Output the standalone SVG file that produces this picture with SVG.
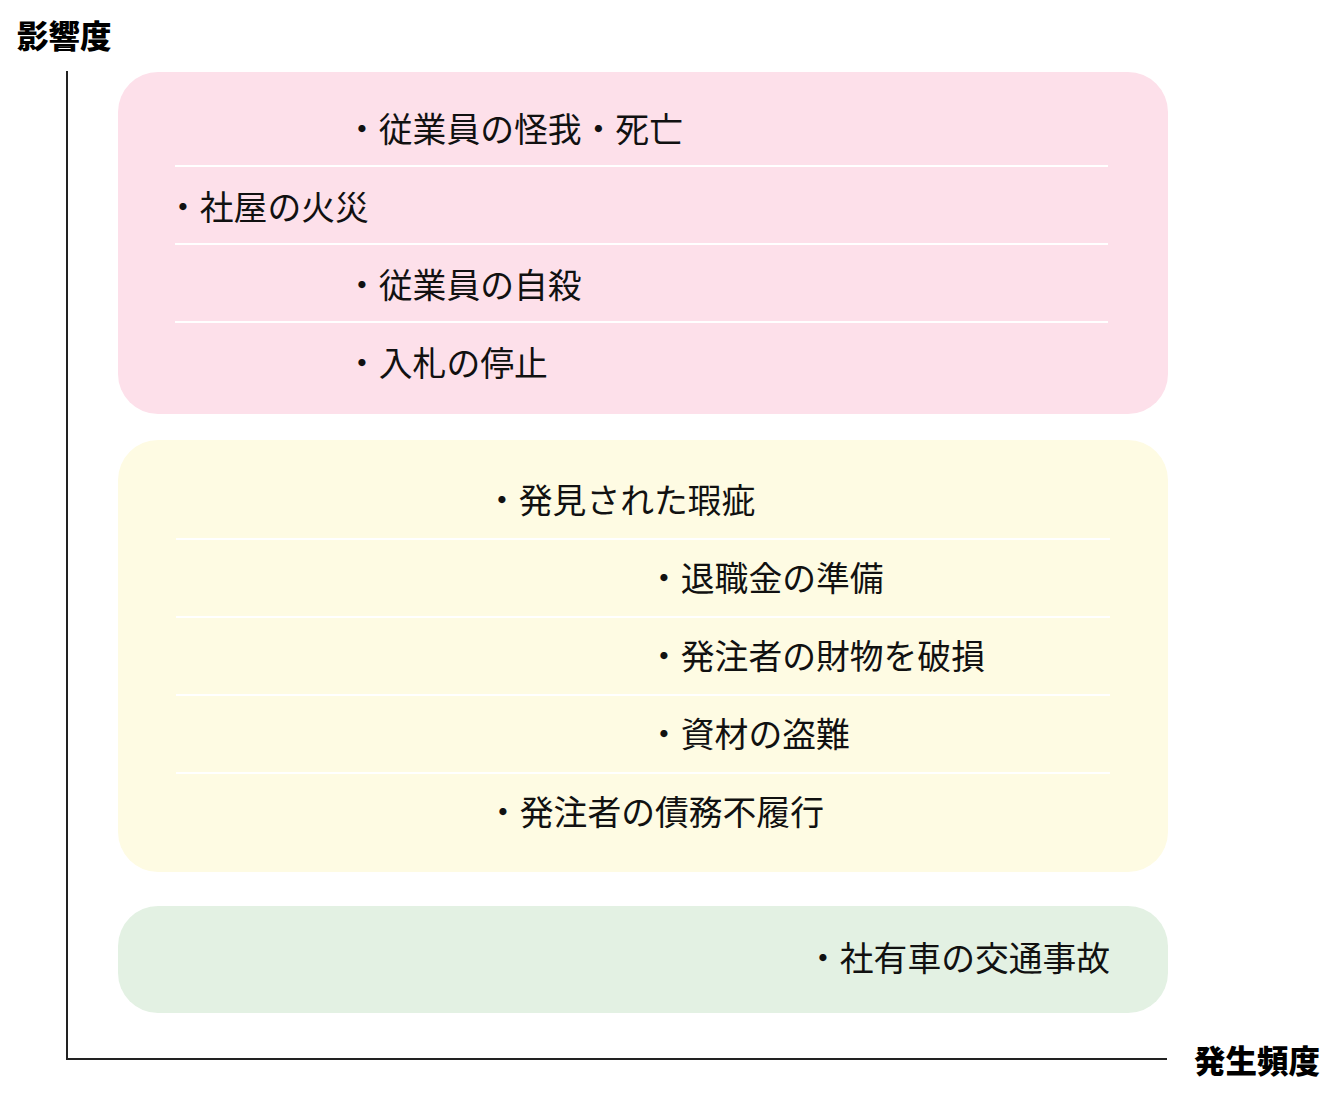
<svg xmlns="http://www.w3.org/2000/svg" width="1336" height="1110" viewBox="0 0 1336 1110">
<style>
.t{font-family:"Noto Sans CJK JP","Noto Sans CJK SC",sans-serif;font-size:33.8px;fill:#111}
.h{font-family:"Noto Sans CJK JP","Noto Sans CJK SC",sans-serif;font-size:31.5px;font-weight:900;fill:#000}
.sep{stroke:#fff;stroke-width:2}
.ax{stroke:#222;stroke-width:2;fill:none}
</style>
<rect width="1336" height="1110" fill="#fff"/>
<g id="axes">
<path class="ax" d="M67 71 V1059 H1167"/>
<text id="y-label" class="h" x="17" y="48">影響度</text>
<text id="x-label" class="h" x="1194" y="1073">発生頻度</text>
</g>
<g id="high">
<rect x="118" y="72" width="1050" height="342" rx="40" fill="#fde0ea"/>
<line class="sep" x1="175" y1="166" x2="1108" y2="166"/>
<line class="sep" x1="175" y1="244" x2="1108" y2="244"/>
<line class="sep" x1="175" y1="322" x2="1108" y2="322"/>
<text class="t" x="345" y="142">・従業員の怪我・死亡</text>
<text class="t" x="166" y="220">・社屋の火災</text>
<text class="t" x="345" y="298">・従業員の自殺</text>
<text class="t" x="345" y="376">・入札の停止</text>
</g>
<g id="medium">
<rect x="118" y="440" width="1050" height="432" rx="40" fill="#fefbe3"/>
<line class="sep" x1="176" y1="539" x2="1110" y2="539"/>
<line class="sep" x1="176" y1="617" x2="1110" y2="617"/>
<line class="sep" x1="176" y1="695" x2="1110" y2="695"/>
<line class="sep" x1="176" y1="773" x2="1110" y2="773"/>
<text class="t" x="485" y="513">・発見された瑕疵</text>
<text class="t" x="647" y="591">・退職金の準備</text>
<text class="t" x="647" y="669">・発注者の財物を破損</text>
<text class="t" x="647" y="747">・資材の盗難</text>
<text class="t" x="486" y="825">・発注者の債務不履行</text>
</g>
<g id="low">
<rect x="118" y="906" width="1050" height="107" rx="40" fill="#e3f1e3"/>
<text class="t" x="806" y="971">・社有車の交通事故</text>
</g>
<g id="connectors"></g>
</svg>
